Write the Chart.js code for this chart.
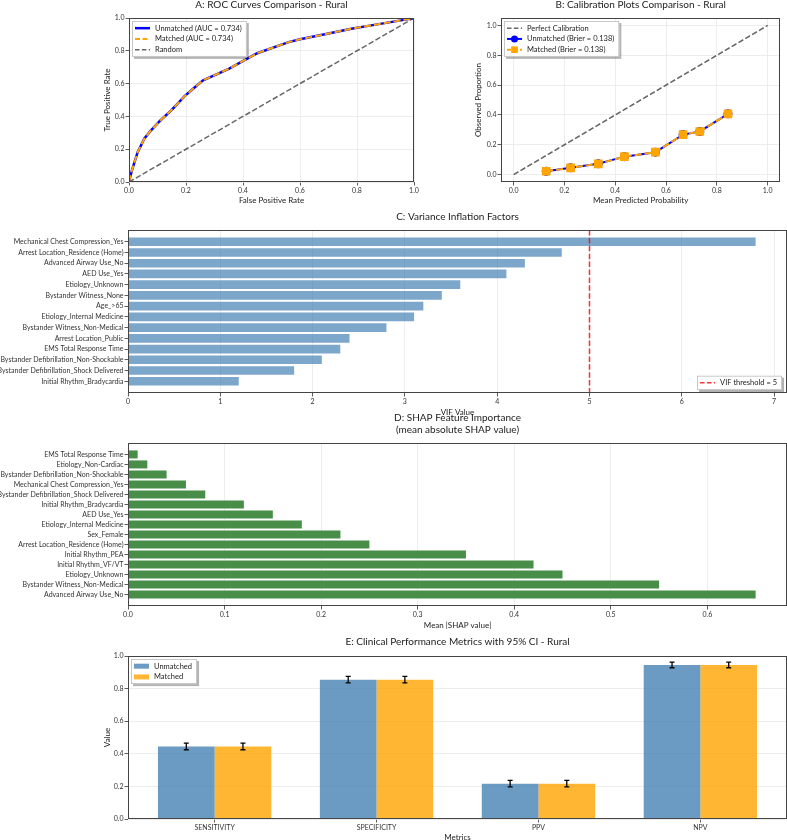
<!DOCTYPE html>
<html>
<head>
<meta charset="utf-8">
<script src="https://cdn.jsdelivr.net/npm/chart.js@4.4.1/dist/chart.umd.min.js"></script>
<style>
  html, body { margin: 0; padding: 0; background: #fff; }
  body { position: relative; width: 787px; height: 840px; overflow: hidden; }
  canvas { position: absolute; }
</style>
</head>
<body>
<canvas id="rocChart" width="335" height="208" style="left:95px;top:0px;width:335px;height:208px"></canvas>
<canvas id="calChart" width="327" height="208" style="left:460px;top:0px;width:327px;height:208px"></canvas>
<canvas id="vifChart" width="787" height="208" style="left:0px;top:210px;width:787px;height:208px"></canvas>
<canvas id="shapChart" width="787" height="226" style="left:0px;top:405px;width:787px;height:226px"></canvas>
<canvas id="metricChart" width="692" height="211" style="left:95px;top:632px;width:692px;height:211px"></canvas>
<script>
// A: ROC curves
const rocFpr = [0, 0.01, 0.03, 0.054, 0.075, 0.11, 0.15, 0.196, 0.226, 0.26, 0.35, 0.45, 0.56, 0.60, 0.70, 0.78, 0.85, 0.97, 1.0];
const rocTprUnmatched = [0, 0.07, 0.18, 0.265, 0.31, 0.375, 0.44, 0.525, 0.57, 0.62, 0.69, 0.785, 0.853, 0.87, 0.905, 0.935, 0.955, 0.99, 1.0];
const rocTprMatched = [0, 0.07, 0.18, 0.265, 0.31, 0.375, 0.44, 0.525, 0.57, 0.62, 0.69, 0.785, 0.853, 0.87, 0.905, 0.935, 0.955, 0.99, 1.0];
const diagonal = [0, 1];
const aucUnmatched = 0.734;
const aucMatched = 0.734;
const unitTicks = [0, 0.2, 0.4, 0.6, 0.8, 1.0];

// B: calibration
const calPredUnmatched = [0.128, 0.224, 0.333, 0.436, 0.558, 0.667, 0.733, 0.844];
const calObsUnmatched = [0.022, 0.045, 0.072, 0.12, 0.15, 0.268, 0.289, 0.407];
const calPredMatched = [0.128, 0.224, 0.333, 0.436, 0.558, 0.667, 0.733, 0.844];
const calObsMatched = [0.022, 0.045, 0.072, 0.12, 0.15, 0.268, 0.289, 0.407];
const brierUnmatched = 0.138;
const brierMatched = 0.138;

// C: VIF
const vifFeatures = ['Mechanical Chest Compression_Yes', 'Arrest Location_Residence (Home)', 'Advanced Airway Use_No',
  'AED Use_Yes', 'Etiology_Unknown', 'Bystander Witness_None', 'Age_>65', 'Etiology_Internal Medicine',
  'Bystander Witness_Non-Medical', 'Arrest Location_Public', 'EMS Total Response Time',
  'Bystander Defibrillation_Non-Shockable', 'Bystander Defibrillation_Shock Delivered', 'Initial Rhythm_Bradycardia'];
const vifValues = [6.8, 4.7, 4.3, 4.1, 3.6, 3.4, 3.2, 3.1, 2.8, 2.4, 2.3, 2.1, 1.8, 1.2];
const vifThreshold = 5;
const vifTicks = [0, 1, 2, 3, 4, 5, 6, 7];

// D: SHAP
const shapFeatures = ['EMS Total Response Time', 'Etiology_Non-Cardiac', 'Bystander Defibrillation_Non-Shockable',
  'Mechanical Chest Compression_Yes', 'Bystander Defibrillation_Shock Delivered', 'Initial Rhythm_Bradycardia',
  'AED Use_Yes', 'Etiology_Internal Medicine', 'Sex_Female', 'Arrest Location_Residence (Home)',
  'Initial Rhythm_PEA', 'Initial Rhythm_VF/VT', 'Etiology_Unknown', 'Bystander Witness_Non-Medical', 'Advanced Airway Use_No'];
const shapValues = [0.01, 0.02, 0.04, 0.06, 0.08, 0.12, 0.15, 0.18, 0.22, 0.25, 0.35, 0.42, 0.45, 0.55, 0.65];
const shapTicks = [0, 0.1, 0.2, 0.3, 0.4, 0.5, 0.6];

// E: clinical metrics
const metricNames = ['SENSITIVITY', 'SPECIFICITY', 'PPV', 'NPV'];
const metricsUnmatched = [0.445, 0.855, 0.217, 0.945];
const metricsMatched = [0.445, 0.855, 0.217, 0.945];
const ciUnmatched = [[0.425, 0.465], [0.835, 0.875], [0.197, 0.237], [0.928, 0.962]];
const ciMatched = [[0.425, 0.465], [0.835, 0.875], [0.197, 0.237], [0.928, 0.962]];

Chart.defaults.font.family = 'Lato, "DejaVu Sans", sans-serif';
Chart.defaults.color = '#222';
Chart.defaults.animation = false;

const BLUE = '#0000ff';
const ORANGE = '#ffa500';
const GREY = 'rgba(0,0,0,0.6)';

function axis(o) {
  return {
    type: 'linear',
    position: o.position,
    min: o.min,
    max: o.max,
    offset: false,
    reverse: !!o.reverse,
    afterBuildTicks: s => { s.ticks = o.ticks.map(v => ({ value: v })); },
    afterFit: s => { if (o.position === 'left') s.width = o.size; else s.height = o.size; },
    border: { display: false },
    grid: { offset: false, color: o.grid ? '#e9e9e9' : 'transparent', lineWidth: 0.8, tickColor: '#333', tickLength: 3.5, tickWidth: 0.8 },
    ticks: { font: { size: 7 }, color: '#333', padding: 1, autoSkip: false, maxRotation: 0, callback: o.fmt },
    title: o.title ? { display: true, text: o.title, font: { size: 8 }, color: '#222', padding: o.titlePad } : { display: false }
  };
}

function chartTitle(text, top, bottom, lh) {
  return { display: true, text: text, fullSize: false, color: '#222',
    font: { size: 10, weight: 'normal', lineHeight: lh || 1 }, padding: { top: top, bottom: bottom } };
}

const framePlugin = {
  id: 'frame',
  afterDatasetsDraw(chart) {
    const { ctx, chartArea: a } = chart;
    ctx.save();
    ctx.strokeStyle = '#444';
    ctx.lineWidth = 1;
    ctx.strokeRect(Math.round(a.left) + 0.5, Math.round(a.top) + 0.5, Math.round(a.right - a.left) - 1, Math.round(a.bottom - a.top) - 1);
    ctx.restore();
  }
};

const boxLegend = {
  id: 'boxLegend',
  afterDraw(chart, args, opts) {
    if (!opts.items) return;
    const ctx = chart.ctx, a = chart.chartArea;
    const rowH = 10.75, handle = 15, gap = 5, padX = 3, padY = 1.8;
    ctx.save();
    ctx.font = '7.5px Lato, sans-serif';
    const textW = Math.max(...opts.items.map(it => ctx.measureText(it.label).width));
    const w = padX + handle + gap + textW + padX + 2;
    const h = opts.items.length * rowH + padY * 2;
    const x = opts.corner.includes('left') ? a.left + 3 : a.right - 5 - w;
    const y = opts.corner.includes('upper') ? a.top + 3 : a.bottom - 3 - h;
    ctx.fillStyle = 'rgba(0,0,0,0.3)';
    ctx.fillRect(x + 2, y + 2, w, h);
    ctx.fillStyle = '#fff';
    ctx.fillRect(x, y, w, h);
    ctx.strokeStyle = '#bbb';
    ctx.lineWidth = 0.8;
    ctx.strokeRect(x + 0.5, y + 0.5, w - 1, h - 1);
    opts.items.forEach((it, i) => {
      const cy = y + padY + rowH * (i + 0.5);
      const hx = x + padX;
      if (it.patch) {
        ctx.fillStyle = it.color;
        ctx.fillRect(hx, cy - 2.5, handle, 5);
      } else {
        ctx.strokeStyle = it.color;
        ctx.lineWidth = it.width;
        ctx.setLineDash(it.dash || []);
        ctx.beginPath();
        ctx.moveTo(hx, cy);
        ctx.lineTo(hx + handle, cy);
        ctx.stroke();
        ctx.setLineDash([]);
        ctx.fillStyle = it.color;
        if (it.marker === 'circle') {
          ctx.beginPath();
          ctx.arc(hx + handle / 2, cy, 3.5, 0, Math.PI * 2);
          ctx.fill();
        } else if (it.marker === 'rect') {
          ctx.fillRect(hx + handle / 2 - 3.3, cy - 3.3, 6.6, 6.6);
        }
      }
      ctx.fillStyle = '#222';
      ctx.textBaseline = 'middle';
      ctx.textAlign = 'left';
      ctx.fillText(it.label, hx + handle + gap, cy);
    });
    ctx.restore();
  }
};

const thresholdLine = {
  id: 'threshold',
  afterDatasetsDraw(chart, args, opts) {
    const { ctx, chartArea: a } = chart;
    const x = chart.scales.x.getPixelForValue(opts.value);
    ctx.save();
    ctx.strokeStyle = 'rgba(255,0,0,0.8)';
    ctx.lineWidth = 1.5;
    ctx.setLineDash([5.5, 2.4]);
    ctx.beginPath();
    ctx.moveTo(x, a.top);
    ctx.lineTo(x, a.bottom);
    ctx.stroke();
    ctx.restore();
  }
};

const errorBars = {
  id: 'errorBars',
  afterDatasetsDraw(chart, args, opts) {
    const { ctx } = chart;
    const yS = chart.scales.y;
    ctx.save();
    ctx.strokeStyle = '#000';
    ctx.lineWidth = 1.3;
    opts.ranges.forEach((rng, di) => {
      chart.getDatasetMeta(di).data.forEach((bar, i) => {
        const yl = yS.getPixelForValue(rng[i][0]);
        const yh = yS.getPixelForValue(rng[i][1]);
        ctx.beginPath();
        ctx.moveTo(bar.x, yl); ctx.lineTo(bar.x, yh);
        ctx.moveTo(bar.x - 2.5, yl); ctx.lineTo(bar.x + 2.5, yl);
        ctx.moveTo(bar.x - 2.5, yh); ctx.lineTo(bar.x + 2.5, yh);
        ctx.stroke();
      });
    });
    ctx.restore();
  }
};

const noLegend = { legend: { display: false }, tooltip: { enabled: false } };
const fmt1 = v => v.toFixed(1);

// A
new Chart(document.getElementById('rocChart'), {
  type: 'line',
  data: {
    datasets: [
      { label: `Matched (AUC = ${aucMatched.toFixed(3)})`, data: rocFpr.map((x, i) => ({ x, y: rocTprMatched[i] })),
        borderColor: ORANGE, borderWidth: 2, borderDash: [7, 3], order: 0 },
      { label: `Unmatched (AUC = ${aucUnmatched.toFixed(3)})`, data: rocFpr.map((x, i) => ({ x, y: rocTprUnmatched[i] })),
        borderColor: BLUE, borderWidth: 2.5, order: 1 },
      { label: 'Random', data: diagonal.map(v => ({ x: v, y: v })),
        borderColor: GREY, borderWidth: 1.5, borderDash: [5.5, 2.4], order: 2 }
    ]
  },
  options: {
    responsive: false,
    layout: { padding: { right: 16 } },
    elements: { point: { radius: 0 }, line: { tension: 0 } },
    scales: {
      x: axis({ position: 'bottom', min: 0, max: 1, ticks: unitTicks, fmt: fmt1, grid: true, size: 26,
        title: 'False Positive Rate', titlePad: { top: 0, bottom: 3.2 } }),
      y: axis({ position: 'left', min: 0, max: 1, ticks: unitTicks, fmt: fmt1, grid: true, size: 34,
        title: 'True Positive Rate', titlePad: { top: 7.2, bottom: 0 } })
    },
    plugins: {
      ...noLegend,
      title: chartTitle('A: ROC Curves Comparison - Rural', 0, 8),
      boxLegend: { corner: 'upper left', items: [
        { label: `Unmatched (AUC = ${aucUnmatched.toFixed(3)})`, color: BLUE, width: 2.5 },
        { label: `Matched (AUC = ${aucMatched.toFixed(3)})`, color: ORANGE, width: 2, dash: [5, 2.5] },
        { label: 'Random', color: GREY, width: 1.5, dash: [4.5, 2.4] }
      ] }
    }
  },
  plugins: [framePlugin, boxLegend]
});

// B
new Chart(document.getElementById('calChart'), {
  type: 'line',
  data: {
    datasets: [
      { label: `Matched (Brier = ${brierMatched.toFixed(3)})`, data: calPredMatched.map((x, i) => ({ x, y: calObsMatched[i] })),
        borderColor: ORANGE, borderWidth: 2, borderDash: [7, 3], pointStyle: 'rect', pointRadius: 4.7,
        pointBackgroundColor: ORANGE, pointBorderColor: ORANGE, order: 0 },
      { label: `Unmatched (Brier = ${brierUnmatched.toFixed(3)})`, data: calPredUnmatched.map((x, i) => ({ x, y: calObsUnmatched[i] })),
        borderColor: BLUE, borderWidth: 2, pointStyle: 'circle', pointRadius: 3.5,
        pointBackgroundColor: BLUE, pointBorderColor: BLUE, order: 1 },
      { label: 'Perfect Calibration', data: diagonal.map(v => ({ x: v, y: v })),
        borderColor: GREY, borderWidth: 1.5, borderDash: [5.5, 2.4], pointRadius: 0, order: 2 }
    ]
  },
  options: {
    responsive: false,
    layout: { padding: { right: 1 } },
    elements: { line: { tension: 0 } },
    scales: {
      x: axis({ position: 'bottom', min: -0.05, max: 1.05, ticks: unitTicks, fmt: fmt1, grid: true, size: 26,
        title: 'Mean Predicted Probability', titlePad: { top: 0, bottom: 3.2 } }),
      y: axis({ position: 'left', min: -0.05, max: 1.05, ticks: unitTicks, fmt: fmt1, grid: true, size: 41,
        title: 'Observed Proportion', titlePad: { top: 13.2, bottom: 0 } })
    },
    plugins: {
      ...noLegend,
      title: chartTitle('B: Calibration Plots Comparison - Rural', 0, 8),
      boxLegend: { corner: 'upper left', items: [
        { label: 'Perfect Calibration', color: GREY, width: 1.5, dash: [4.5, 2.4] },
        { label: `Unmatched (Brier = ${brierUnmatched.toFixed(3)})`, color: BLUE, width: 2, marker: 'circle' },
        { label: `Matched (Brier = ${brierMatched.toFixed(3)})`, color: ORANGE, width: 2, dash: [4, 2.5], marker: 'rect' }
      ] }
    }
  },
  plugins: [framePlugin, boxLegend]
});

// limits like matplotlib barh auto-margins (bars 0.8 tall, 5% padding)
function barLimits(n) {
  const span = n - 1 + 0.8;
  return { min: -0.4 - 0.05 * span, max: n - 1 + 0.4 + 0.05 * span };
}

// C
const vifLim = barLimits(vifValues.length);
new Chart(document.getElementById('vifChart'), {
  type: 'bar',
  data: {
    datasets: [{ data: vifValues.map((v, i) => ({ x: v, y: i })), backgroundColor: 'rgba(70,130,180,0.7)',
      borderWidth: 0, categoryPercentage: 1, barPercentage: 0.8 }]
  },
  options: {
    responsive: false,
    indexAxis: 'y',
    scales: {
      x: axis({ position: 'bottom', min: 0, max: Math.max(...vifValues) * 1.05, ticks: vifTicks, fmt: v => String(v),
        grid: true, size: 25, title: 'VIF Value', titlePad: { top: 0, bottom: 1.2 } }),
      y: axis({ position: 'left', min: vifLim.min, max: vifLim.max, reverse: true,
        ticks: vifFeatures.map((_, i) => i), fmt: v => vifFeatures[v], grid: false, size: 128 })
    },
    plugins: {
      ...noLegend,
      title: chartTitle('C: Variance Inflation Factors', 2, 8),
      threshold: { value: vifThreshold },
      boxLegend: { corner: 'lower right', items: [
        { label: `VIF threshold = ${vifThreshold}`, color: 'rgba(255,0,0,0.8)', width: 1.5, dash: [4.5, 2.4] }
      ] }
    }
  },
  plugins: [thresholdLine, framePlugin, boxLegend]
});

// D
const shapLim = barLimits(shapValues.length);
new Chart(document.getElementById('shapChart'), {
  type: 'bar',
  data: {
    datasets: [{ data: shapValues.map((v, i) => ({ x: v, y: i })), backgroundColor: '#488e48',
      borderWidth: 0, categoryPercentage: 1, barPercentage: 0.8 }]
  },
  options: {
    responsive: false,
    indexAxis: 'y',
    scales: {
      x: axis({ position: 'bottom', min: 0, max: Math.max(...shapValues) * 1.05, ticks: shapTicks, fmt: fmt1,
        grid: true, size: 25, title: 'Mean |SHAP value|', titlePad: { top: 0, bottom: 1.2 } }),
      y: axis({ position: 'left', min: shapLim.min, max: shapLim.max, reverse: true,
        ticks: shapFeatures.map((_, i) => i), fmt: v => shapFeatures[v], grid: false, size: 128 })
    },
    plugins: {
      ...noLegend,
      title: chartTitle(['D: SHAP Feature Importance', '(mean absolute SHAP value)'], 7, 7, 1.2)
    }
  },
  plugins: [framePlugin]
});

// E
new Chart(document.getElementById('metricChart'), {
  type: 'bar',
  data: {
    datasets: [
      { label: 'Unmatched', data: metricsUnmatched.map((v, i) => ({ x: i, y: v })), backgroundColor: 'rgba(70,130,180,0.8)',
        borderWidth: 0, categoryPercentage: 0.7, barPercentage: 1 },
      { label: 'Matched', data: metricsMatched.map((v, i) => ({ x: i, y: v })), backgroundColor: 'rgba(255,165,0,0.8)',
        borderWidth: 0, categoryPercentage: 0.7, barPercentage: 1 }
    ]
  },
  options: {
    responsive: false,
    scales: {
      x: axis({ position: 'bottom', min: -0.535, max: metricNames.length - 1 + 0.535, ticks: metricNames.map((_, i) => i),
        fmt: v => metricNames[v], grid: false, size: 24, title: 'Metrics', titlePad: { top: 0, bottom: 1.2 } }),
      y: axis({ position: 'left', min: 0, max: 1, ticks: unitTicks, fmt: fmt1, grid: true, size: 33,
        title: 'Value', titlePad: { top: 7.2, bottom: 0 } })
    },
    plugins: {
      ...noLegend,
      title: chartTitle('E: Clinical Performance Metrics with 95% CI - Rural', 5, 9),
      errorBars: { ranges: [ciUnmatched, ciMatched] },
      boxLegend: { corner: 'upper left', items: [
        { label: 'Unmatched', color: 'rgba(70,130,180,0.8)', patch: true },
        { label: 'Matched', color: 'rgba(255,165,0,0.8)', patch: true }
      ] }
    }
  },
  plugins: [framePlugin, errorBars, boxLegend]
});
</script>
</body>
</html>
